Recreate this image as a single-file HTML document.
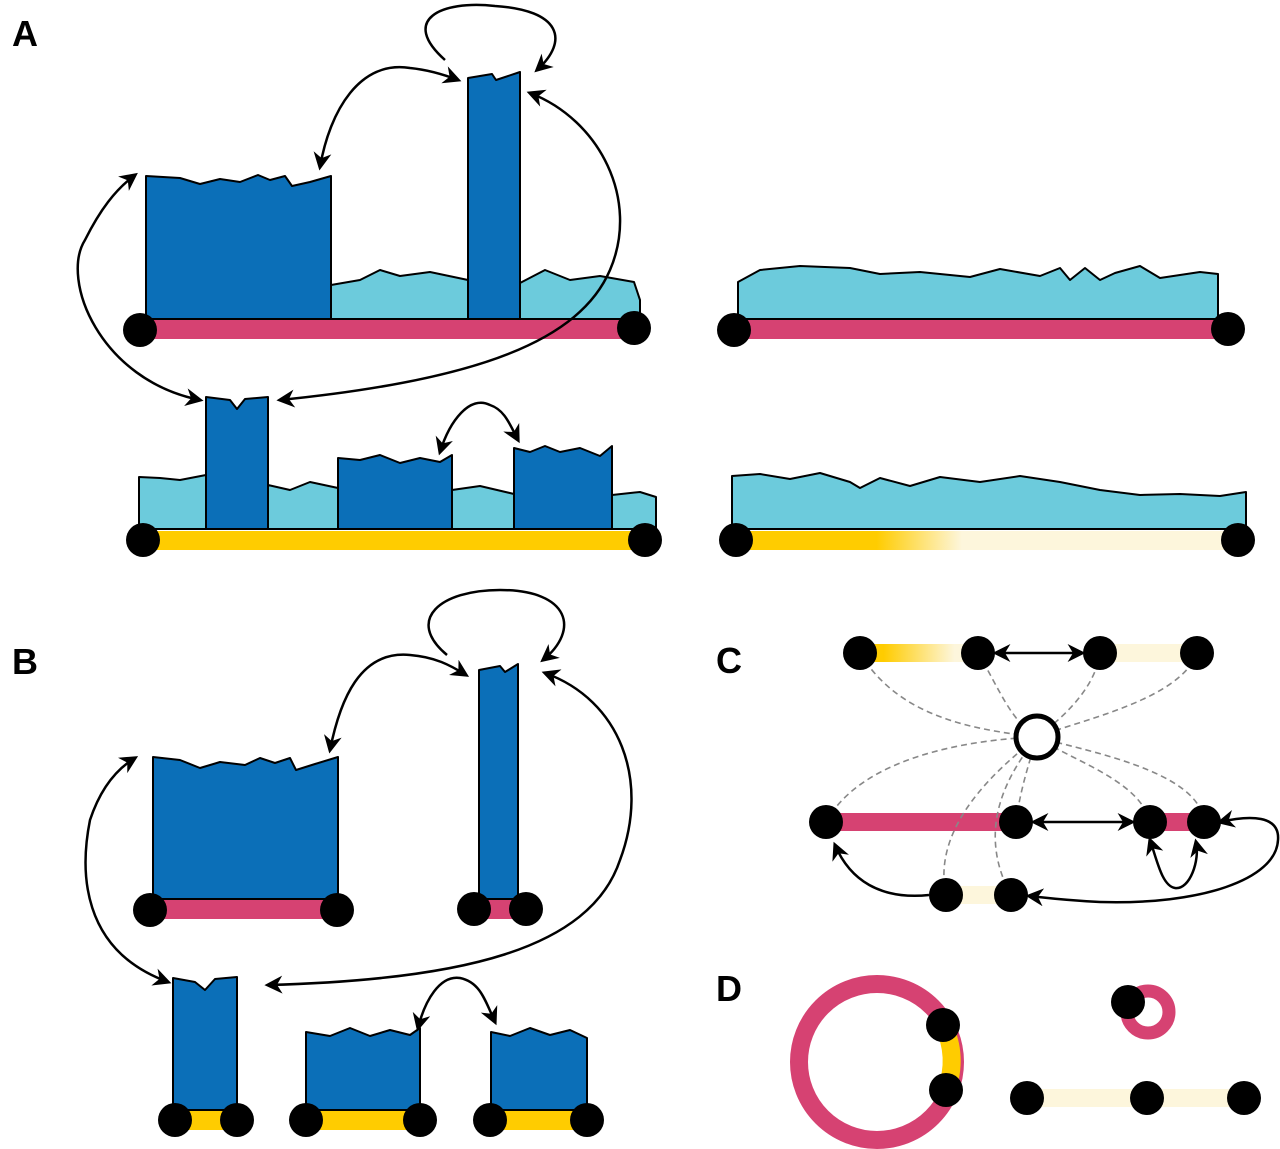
<!DOCTYPE html>
<html><head><meta charset="utf-8"><style>html,body{margin:0;padding:0;background:#fff}svg{display:block}</style></head><body>
<svg width="1280" height="1149" viewBox="0 0 1280 1149" xmlns="http://www.w3.org/2000/svg" font-family="Liberation Sans, sans-serif">
<defs>
<marker id="ah2" viewBox="0 0 10 10" refX="8" refY="5" markerWidth="24" markerHeight="18" orient="auto-start-reverse" markerUnits="userSpaceOnUse"><path d="M0,0 L10,5 L0,10 L3,5 z" fill="#000"/></marker>
<linearGradient id="gy" gradientUnits="userSpaceOnUse" x1="736" y1="0" x2="1238" y2="0"><stop offset="0.28" stop-color="#ffcc00"/><stop offset="0.45" stop-color="#fdf6dc"/><stop offset="1" stop-color="#fdf6dc"/></linearGradient>
<linearGradient id="gy2" gradientUnits="userSpaceOnUse" x1="860" y1="0" x2="978" y2="0"><stop offset="0.2" stop-color="#ffcc00"/><stop offset="0.8" stop-color="#fdf6dc"/></linearGradient>
</defs>
<g font-weight="bold" font-size="36" fill="#000">
<text x="12" y="46">A</text><text x="12" y="674">B</text><text x="716" y="673">C</text><text x="716" y="1001">D</text>
</g>
<g stroke="#000" stroke-width="2" stroke-linejoin="round">
<path d="M331,319 L331,285 L360,280 L380,270 L400,276 L430,272 L468,280 L468,319 Z M520,319 L520,283 L545,270 L570,280 L600,276 L634,282 L640,300 L640,319 Z" fill="#6ccbdc"/>
<path d="M146,319 L146,176 L180,178 L200,184 L220,179 L240,182 L258,175 L270,180 L285,176 L292,186 L310,182 L331,176 L331,319 Z" fill="#0b6fb8"/>
<path d="M468,319 L468,78 L492,74 L496,80 L520,72 L520,319 Z" fill="#0b6fb8"/>
<path d="M738,319 L738,282 L760,270 L800,266 L850,268 L880,274 L920,272 L970,277 L1000,269 L1040,276 L1060,268 L1070,280 L1085,268 L1100,280 L1115,273 L1140,266 L1160,278 L1200,272 L1218,274 L1218,319 Z" fill="#6ccbdc"/>
<path d="M139,529 L139,477 L160,478 L180,480 L206,475 L206,529 Z M268,529 L268,485 L290,490 L310,482 L338,488 L338,529 Z M452,529 L452,490 L480,486 L514,494 L514,529 Z M612,529 L612,495 L640,492 L656,497 L656,529 Z" fill="#6ccbdc"/>
<path d="M206,529 L206,397 L230,400 L237,409 L245,399 L268,397 L268,529 Z" fill="#0b6fb8"/>
<path d="M338,529 L338,458 L360,460 L380,455 L400,463 L420,458 L440,462 L452,455 L452,529 Z" fill="#0b6fb8"/>
<path d="M514,529 L514,448 L530,452 L545,446 L560,452 L580,448 L600,456 L612,446 L612,529 Z" fill="#0b6fb8"/>
<path d="M732,529 L732,476 L760,474 L790,479 L820,473 L850,482 L860,488 L880,478 L910,486 L940,477 L980,482 L1020,476 L1060,482 L1100,490 L1140,495 L1180,494 L1220,496 L1246,492 L1246,529 Z" fill="#6ccbdc"/>
<path d="M153,899 L153,757 L180,760 L200,768 L220,762 L245,765 L260,758 L275,763 L290,758 L296,770 L315,764 L338,757 L338,899 Z" fill="#0b6fb8"/>
<path d="M479,899 L479,670 L500,666 L505,672 L518,664 L518,899 Z" fill="#0b6fb8"/>
<path d="M173,1110 L173,978 L195,982 L205,990 L215,979 L237,977 L237,1110 Z" fill="#0b6fb8"/>
<path d="M306,1110 L306,1032 L330,1036 L350,1028 L370,1036 L390,1030 L410,1035 L420,1028 L420,1110 Z" fill="#0b6fb8"/>
<path d="M491,1110 L491,1032 L510,1036 L530,1028 L550,1035 L570,1030 L587,1038 L587,1110 Z" fill="#0b6fb8"/>
</g>
<g fill="none">
<rect x="140" y="320" width="494" height="19" fill="#d64272"/>
<rect x="734" y="320" width="494" height="19" fill="#d64272"/>
<rect x="143" y="531" width="502" height="19" fill="#ffcc00"/>
<rect x="736" y="531" width="502" height="19" fill="url(#gy)"/>
<rect x="150" y="900" width="187" height="19" fill="#d64272"/>
<rect x="474" y="900" width="52" height="19" fill="#d64272"/>
<rect x="175" y="1111" width="62" height="19" fill="#ffcc00"/>
<rect x="306" y="1111" width="114" height="19" fill="#ffcc00"/>
<rect x="490" y="1111" width="97" height="19" fill="#ffcc00"/>
<rect x="860" y="644" width="118" height="18" fill="url(#gy2)"/>
<rect x="1100" y="644" width="97" height="18" fill="#fdf6dc"/>
<rect x="826" y="813" width="190" height="18" fill="#d64272"/>
<rect x="1150" y="813" width="54" height="18" fill="#d64272"/>
<rect x="946" y="886" width="65" height="18" fill="#fdf6dc"/>
<rect x="1027" y="1089" width="217" height="18" fill="#fdf6dc"/>
</g>
<circle cx="877" cy="1062" r="78" fill="none" stroke="#d64272" stroke-width="18"/>
<path d="M943,1025 A78,78 0 0 1 946,1090" fill="none" stroke="#ffcc00" stroke-width="18"/>
<circle cx="1148" cy="1012" r="21" fill="none" stroke="#d64272" stroke-width="13"/>
<g stroke="#888" stroke-width="1.6" stroke-dasharray="6,4" fill="none">
<path d="M860,653 C900,720 980,730 1037,737"/>
<path d="M978,653 C1000,690 1010,720 1037,737"/>
<path d="M1100,653 C1095,690 1060,720 1037,737"/>
<path d="M1197,653 C1180,700 1080,720 1037,737"/>
<path d="M826,822 C860,760 960,740 1037,737"/>
<path d="M1016,822 C1020,790 1030,760 1037,737"/>
<path d="M1150,822 C1140,780 1070,760 1037,737"/>
<path d="M1204,822 C1200,770 1080,750 1037,737"/>
<path d="M946,895 C930,820 1010,760 1037,737"/>
<path d="M1011,895 C970,820 1020,760 1037,737"/>
</g>
<circle cx="1037" cy="737" r="21" fill="#fff" stroke="#000" stroke-width="5"/>
<g stroke="#000" stroke-width="2.5" fill="none" marker-end="url(#ah2)">
<path d="M445,60 C400,20 440,0 495,6 C560,10 570,40 537,70"/>
<path d="M320,167 C330,110 360,60 410,68 C430,70 445,75 458,80" marker-start="url(#ah2)"/>
<path d="M200,400 C100,380 60,280 85,240 C100,210 115,190 135,175" marker-start="url(#ah2)"/>
<path d="M530,93 C600,120 640,200 610,270 C580,340 480,380 280,400" marker-start="url(#ah2)"/>
<path d="M440,452 C450,420 470,395 490,405 C505,410 510,425 518,440" marker-start="url(#ah2)"/>
<path d="M447,655 C405,620 440,590 500,590 C570,590 580,630 543,660"/>
<path d="M330,750 C340,700 360,650 410,655 C435,657 450,665 466,675" marker-start="url(#ah2)"/>
<path d="M168,982 C80,950 80,870 90,820 C100,790 115,770 135,758" marker-start="url(#ah2)"/>
<path d="M545,673 C620,700 650,780 620,860 C590,950 460,980 268,985" marker-start="url(#ah2)"/>
<path d="M418,1028 C425,1000 440,975 460,978 C480,982 485,1000 495,1022" marker-start="url(#ah2)"/>
<line x1="996" y1="653" x2="1082" y2="653" marker-start="url(#ah2)"/>
<line x1="1034" y1="822" x2="1132" y2="822" marker-start="url(#ah2)"/>
<path d="M929,895 C880,900 850,880 835,845"/>
<path d="M1220,822 C1250,815 1280,815 1278,840 C1276,880 1200,905 1100,902 C1060,900 1040,897 1029,896" marker-start="url(#ah2)"/>
<path d="M1196,842 C1200,860 1190,890 1175,888 C1162,886 1157,860 1150,840" marker-start="url(#ah2)"/>
</g>
<g fill="#000">
<circle cx="140" cy="330" r="17"/><circle cx="634" cy="328" r="17"/>
<circle cx="734" cy="330" r="17"/><circle cx="1228" cy="329" r="17"/>
<circle cx="143" cy="540" r="17"/><circle cx="645" cy="540" r="17"/>
<circle cx="736" cy="540" r="17"/><circle cx="1238" cy="540" r="17"/>
<circle cx="150" cy="910" r="17"/><circle cx="337" cy="910" r="17"/>
<circle cx="474" cy="909" r="17"/><circle cx="526" cy="909" r="17"/>
<circle cx="175" cy="1120" r="17"/><circle cx="237" cy="1120" r="17"/>
<circle cx="306" cy="1120" r="17"/><circle cx="420" cy="1120" r="17"/>
<circle cx="490" cy="1120" r="17"/><circle cx="587" cy="1120" r="17"/>
<circle cx="860" cy="653" r="17"/><circle cx="978" cy="653" r="17"/><circle cx="1100" cy="653" r="17"/><circle cx="1197" cy="653" r="17"/>
<circle cx="826" cy="822" r="17"/><circle cx="1016" cy="822" r="17"/><circle cx="1150" cy="822" r="17"/><circle cx="1204" cy="822" r="17"/>
<circle cx="946" cy="895" r="17"/><circle cx="1011" cy="895" r="17"/>
<circle cx="943" cy="1025" r="17"/><circle cx="946" cy="1090" r="17"/>
<circle cx="1128" cy="1002" r="17"/>
<circle cx="1027" cy="1098" r="17"/><circle cx="1147" cy="1098" r="17"/><circle cx="1244" cy="1098" r="17"/>
</g>
</svg>
</body></html>
